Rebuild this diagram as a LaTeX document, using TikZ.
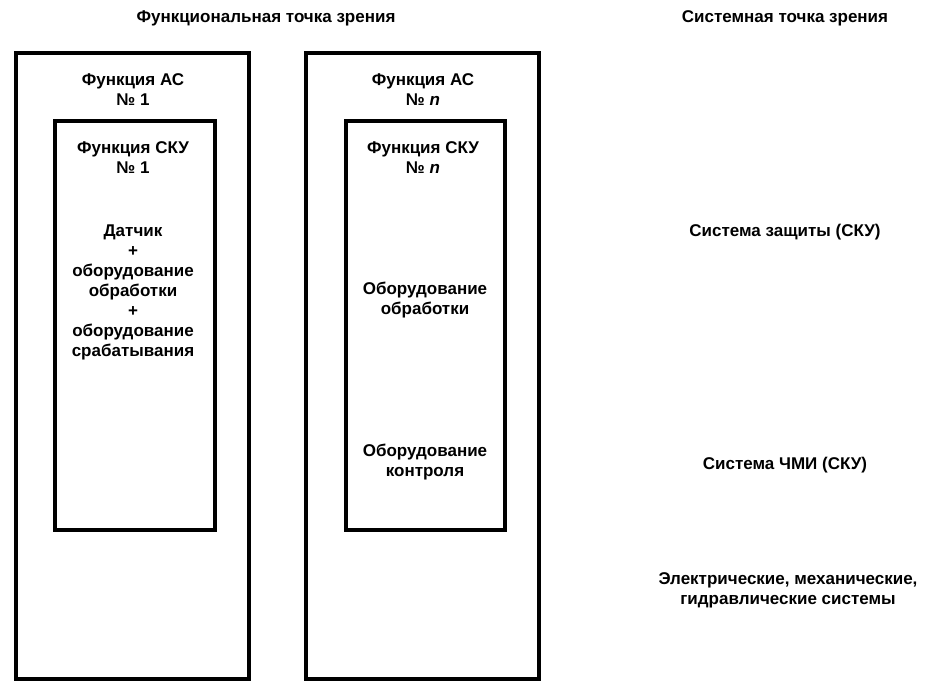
\documentclass[tikz,border=0pt]{standalone}
\usepackage{fontspec}
\setmainfont{Liberation Sans}
\begin{document}
\begin{tikzpicture}[x=1pt,y=-1pt,
  txt/.style={align=center,font=\bfseries\fontsize{17}{20}\selectfont,inner sep=0pt}]
  \useasboundingbox (0,0) rectangle (925,682);

  \draw [line width=4pt] (16,53) rectangle (249,679);
  \draw [line width=4pt] (55,121) rectangle (215,530);
  \draw [line width=4pt] (306,53) rectangle (539,679);
  \draw [line width=4pt] (346,121) rectangle (505,530);

  \node [txt] (func) at (266,18) {Функциональная точка зрения};
  \node [txt] (sys) at (785,18) {Системная точка зрения};

  \node [txt] (as1) at (133,90) {Функция АС\\№ 1};
  \node [txt] (sku1) at (133,158) {Функция СКУ\\№ 1};
  \node [txt] (eq1) at (133,292) {Датчик\\+\\оборудование\\обработки\\+\\оборудование\\срабатывания};

  \node [txt] (asn) at (423,90) {Функция АС\\№ \textit{n}};
  \node [txt] (skun) at (423,158) {Функция СКУ\\№ \textit{n}};
  \node [txt] (proc) at (425,300) {Оборудование\\обработки};
  \node [txt] (ctrl) at (425,462) {Оборудование\\контроля};

  \node [txt] (prot) at (785,232) {Система защиты (СКУ)};
  \node [txt] (hmi) at (785,465) {Система ЧМИ (СКУ)};
  \node [txt] (emh) at (788,590) {Электрические, механические,\\гидравлические системы};
\end{tikzpicture}
\end{document}
